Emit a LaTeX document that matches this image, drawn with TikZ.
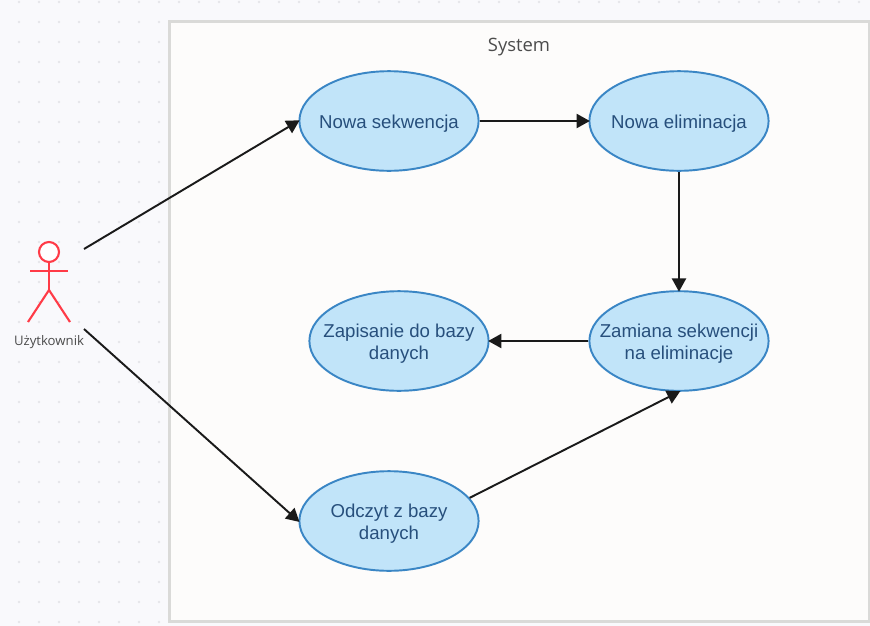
\documentclass[tikz,border=0pt]{standalone}
\usepackage{fontspec}
\setmainfont{Liberation Sans}
\newfontfamily\uifont{Open Sans}
\usetikzlibrary{arrows.meta,shapes.geometric}
\definecolor{pagebg}{HTML}{F9F9FC}
\definecolor{griddot}{HTML}{E6E6EA}
\definecolor{boxbg}{HTML}{FDFCFB}
\definecolor{boxline}{HTML}{DADAD8}
\definecolor{ucfill}{HTML}{C1E4F9}
\definecolor{ucline}{HTML}{3A86C5}
\definecolor{uctext}{HTML}{274F7C}
\definecolor{actorred}{HTML}{FF3B47}
\definecolor{arrowblack}{HTML}{1A1A1A}
\newcommand{\linedrop}{\rule{0pt}{10.8pt}}
\tikzset{
	usecase/.style={ellipse,draw=ucline,fill=ucfill,line width=1.1pt,text=uctext,
		minimum width=102pt,minimum height=56.7pt,inner xsep=-14pt,inner ysep=0pt,align=center,
		font=\fontsize{10.6}{12.5}\selectfont},
	flow/.style={draw=arrowblack,line width=1.1pt,shorten >=-0.8pt,-{Triangle[length=7.5pt,width=8pt]}},
	actorline/.style={draw=actorred,line width=1.2pt}
}
\begin{document}
\begin{tikzpicture}[x=0.02cm,y=-0.02cm]
	\useasboundingbox (0,0) rectangle (870,626);
	\fill[pagebg] (0,0) rectangle (870,626);
	% dotted canvas
	\foreach \i in {0,...,43}
		\fill[griddot] (19+20*\i,2) circle(1.3);
	\foreach \i in {0,...,7}
		\foreach \j in {1,...,31}
			\fill[griddot] (19+20*\i,2+20*\j) circle(1.3);
	% system frame
	\draw[boxline,fill=boxbg,line width=1.5pt] (169.5,21.5) rectangle (869,621.5);
	\node[text=black!70,font=\uifont\fontsize{10.5}{12}\selectfont] (systitle) at (519,47) {System};
	% use cases
	\node[usecase] (nowasek) at (389,121) {\linedrop Nowa sekwencja};
	\node[usecase] (nowaelim) at (679,121) {\linedrop Nowa eliminacja};
	\node[usecase] (zamiana) at (679,341) {\linedrop Zamiana sekwencji\\na eliminacje};
	\node[usecase] (zapis) at (399,341) {\linedrop Zapisanie do bazy\\danych};
	\node[usecase] (odczyt) at (389,521) {\linedrop Odczyt z bazy\\danych};
	% actor
	\draw[actorline,fill=white] (49,252) circle(10);
	\draw[actorline] (49,262) -- (49,290);
	\draw[actorline] (30,271) -- (68,271);
	\draw[actorline] (28,322) -- (49,290) -- (70,322);
	\node[text=black!70,font=\uifont\fontsize{7.5}{9}\selectfont] (actorlabel) at (49,342) {Użytkownik};
	\coordinate (actorup) at (84,249);
	\coordinate (actordown) at (84,329);
	% connectors
	\draw[flow] (actorup) -- (nowasek.west);
	\draw[flow] (actordown) -- (odczyt.west);
	\draw[flow] (nowasek) -- (nowaelim);
	\draw[flow] (nowaelim) -- (zamiana);
	\draw[flow] (zamiana) -- (zapis);
	\draw[flow] (odczyt.16) -- (zamiana.south);
\end{tikzpicture}
\end{document}
